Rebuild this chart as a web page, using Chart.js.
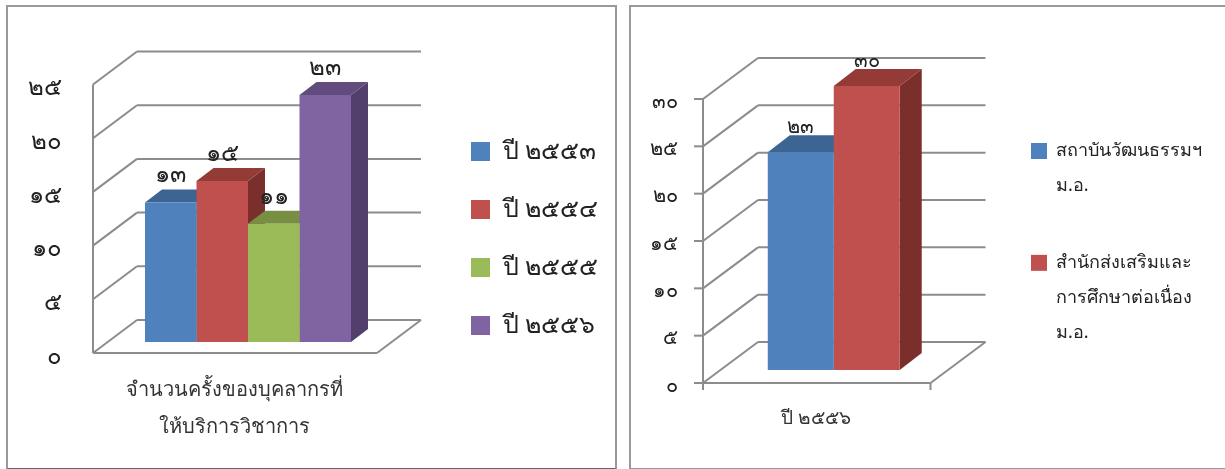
<!DOCTYPE html>
<html>
<head>
<meta charset="utf-8">
<style>
  html, body { margin: 0; background: #fff; overflow: hidden; }
  .panel { position: absolute; top: 5px; height: 465px; border: 2px solid #999; box-sizing: border-box; }
  canvas { position: absolute; top: 0; }
</style>
<script src="https://cdn.jsdelivr.net/npm/chart.js@4"></script>
</head>
<body>
<div class="panel" style="left:6px;width:611px;border-bottom-color:#666"></div>
<div class="panel" style="left:629px;width:610px"></div>
<canvas id="leftChart" width="622" height="469" style="left:0"></canvas>
<canvas id="rightChart" width="600" height="469" style="left:625px"></canvas>
<script>
// left chart data
const leftCategory = [['จำนวนครั้งของบุคลากรที่', 'ให้บริการวิชาการ']];
const leftSeries = ['ปี ๒๕๕๓', 'ปี ๒๕๕๔', 'ปี ๒๕๕๕', 'ปี ๒๕๕๖'];
const leftValues = [13, 15, 11, 23];
const leftTicks = ['๐', '๕', '๑๐', '๑๕', '๒๐', '๒๕'];

// right chart data
const rightCategory = ['ปี ๒๕๕๖'];
const rightSeries = [['สถาบันวัฒนธรรมฯ', 'ม.อ.'], ['สำนักส่งเสริมและ', 'การศึกษาต่อเนื่อง', 'ม.อ.']];
const rightValues = [23, 30];
const rightTicks = ['๐', '๕', '๑๐', '๑๕', '๒๐', '๒๕', '๓๐'];

const thaiDigits = ['๐', '๑', '๒', '๓', '๔', '๕', '๖', '๗', '๘', '๙'];
const FONT = '"Noto Sans", "Liberation Sans", "DejaVu Sans", sans-serif';

// front colour, top face, side face
const leftColors = [
  ['#4f81bd', '#3d6594', '#355880'],
  ['#c0504d', '#943b38', '#7b2f2d'],
  ['#9bbb59', '#778e43', '#667a39'],
  ['#8064a2', '#624b7d', '#533f6b']
];
const rightColors = [
  ['#4f81bd', '#3d6594', '#355880'],
  ['#c0504d', '#943b38', '#7b2f2d']
];

function toThai(n) {
  return String(n).split('').map(d => thaiDigits[+d]).join('');
}

function poly(ctx, pts, fill) {
  ctx.beginPath();
  pts.forEach((p, i) => i ? ctx.lineTo(p[0], p[1]) : ctx.moveTo(p[0], p[1]));
  ctx.closePath();
  ctx.fillStyle = fill;
  ctx.fill();
}

function line(ctx, x1, y1, x2, y2) {
  ctx.beginPath();
  ctx.moveTo(x1, y1);
  ctx.lineTo(x2, y2);
  ctx.stroke();
}

// Walls, floor and the top and side faces of the bars, under the library's bars
const box3d = {
  id: 'box3d',
  afterLayout(chart, args, opts) {
    // legend sits further left than the layout would put it
    chart.legend.left = opts.legendLeft;
    chart.legend.top = opts.legendTop;
    chart.legend.right = chart.width;
    chart.legend.bottom = chart.height;
  },
  beforeDatasetsDraw(chart, args, opts) {
    const ctx = chart.ctx;
    const y = chart.scales.y;
    const area = chart.chartArea;
    const fl = area.left + opts.front[0], fr = area.right + opts.front[0];
    const bl = area.left + opts.back[0], br = area.right + opts.back[0];
    ctx.save();
    ctx.strokeStyle = '#8c8c8c';
    ctx.lineWidth = 2;
    y.ticks.forEach(t => {
      const py = y.getPixelForValue(t.value);
      line(ctx, fl, py + opts.front[1], bl, py + opts.back[1]);
      line(ctx, bl, py + opts.back[1], br, py + opts.back[1]);
      if (opts.tick) line(ctx, fl - opts.tick, py + opts.front[1], fl, py + opts.front[1]);
    });
    const y0 = y.getPixelForValue(y.min) + opts.front[1];
    line(ctx, fl, y.getPixelForValue(y.max) + opts.front[1], fl, y0);
    line(ctx, fl, y0, fr, y0);
    line(ctx, fr, y0, br, y.getPixelForValue(y.min) + opts.back[1]);
    if (opts.tick) {
      line(ctx, fl, y0, fl, y0 + opts.tick - 2);
      line(ctx, fr, y0, fr, y0 + opts.tick - 2);
    }
    chart.data.datasets.forEach((ds, i) => {
      const bar = chart.getDatasetMeta(i).data[0];
      const xl = bar.x - bar.width / 2, xr = bar.x + bar.width / 2;
      const dx = opts.bar[0], dy = opts.bar[1];
      poly(ctx, [[xr, bar.y], [xr + dx, bar.y - dy], [xr + dx, bar.base - dy], [xr, bar.base]], opts.colors[i][2]);
      poly(ctx, [[xl, bar.y], [xl + dx, bar.y - dy], [xr + dx, bar.y - dy], [xr, bar.y]], opts.colors[i][1]);
    });
    ctx.restore();
  },
  afterDatasetsDraw(chart, args, opts) {
    const ctx = chart.ctx;
    ctx.save();
    ctx.font = opts.labelSize + 'px ' + FONT;
    ctx.fillStyle = '#222';
    ctx.textAlign = 'center';
    ctx.textBaseline = 'middle';
    chart.data.datasets.forEach((ds, i) => {
      const bar = chart.getDatasetMeta(i).data[0];
      ctx.fillText(toThai(ds.data[0]), bar.x, bar.y - opts.labelGap);
    });
    ctx.restore();
  }
};

function makeChart(id, cfg) {
  return new Chart(document.getElementById(id), {
    type: 'bar',
    plugins: [box3d],
    data: {
      labels: cfg.labels,
      datasets: cfg.series.map((s, i) => ({
        label: s,
        data: [cfg.values[i]],
        backgroundColor: cfg.colors[i][0],
        barPercentage: 1,
        categoryPercentage: cfg.catPct
      }))
    },
    options: {
      responsive: false,
      animation: false,
      layout: { padding: { top: cfg.top, right: cfg.padRight } },
      scales: {
        x: {
          grid: { display: false, drawTicks: false },
          border: { display: false },
          afterFit(s) { s.height = cfg.xHeight; },
          ticks: {
            maxRotation: 0,
            autoSkip: false,
            padding: cfg.xPad,
            labelOffset: cfg.xOffset,
            color: '#333',
            font: { family: FONT, size: cfg.xSize, lineHeight: cfg.xLine }
          }
        },
        y: {
          min: 0,
          max: cfg.max,
          grid: { display: false, drawTicks: false },
          border: { display: false },
          afterFit(s) { s.width = cfg.yWidth; },
          ticks: {
            stepSize: 5,
            padding: cfg.yPad,
            labelOffset: cfg.yOffset,
            color: '#222',
            font: { family: FONT, size: cfg.ySize },
            callback: (v, i) => cfg.ticks[i]
          }
        }
      },
      plugins: {
        tooltip: { enabled: false },
        legend: {
          position: 'right',
          align: 'start',
          labels: {
            boxWidth: cfg.box,
            boxHeight: cfg.box,
            padding: cfg.legendPad,
            color: '#222',
            font: { family: FONT, size: cfg.legendSize, lineHeight: cfg.legendLine }
          }
        },
        box3d: {
          colors: cfg.colors,
          front: cfg.front,
          back: cfg.back,
          bar: cfg.bar,
          tick: cfg.tick,
          labelSize: cfg.labelSize,
          labelGap: cfg.labelGap,
          legendLeft: cfg.legendLeft,
          legendTop: cfg.legendTop
        }
      }
    }
  });
}

makeChart('leftChart', {
  labels: leftCategory, series: leftSeries, values: leftValues, colors: leftColors, ticks: leftTicks,
  max: 25, catPct: 0.7254, top: 73.5, padRight: 102, xHeight: 127, xPad: 30, xOffset: -14, xSize: 20, xLine: 1.85,
  yWidth: 106, yPad: 44, yOffset: 15, ySize: 24, box: 19, legendPad: 33, legendSize: 25, legendLine: 1.2,
  front: [-13, 11], back: [31, -22], bar: [17, 13], tick: 0, labelSize: 24, labelGap: 27,
  legendLeft: 438, legendTop: 106
});

makeChart('rightChart', {
  labels: rightCategory, series: rightSeries, values: rightValues, colors: rightColors, ticks: rightTicks,
  max: 30, catPct: 0.58, top: 86, padRight: 170, xHeight: 99, xPad: 37, xOffset: -18, xSize: 19, xLine: 1.2,
  yWidth: 95, yPad: 42, yOffset: 16, ySize: 20, box: 16, legendPad: 42, legendSize: 18, legendLine: 1.94,
  front: [-17, 13], back: [38, -28], bar: [22, 17], tick: 9, labelSize: 20, labelGap: 25,
  legendLeft: 364, legendTop: 100
});
</script>
</body>
</html>
